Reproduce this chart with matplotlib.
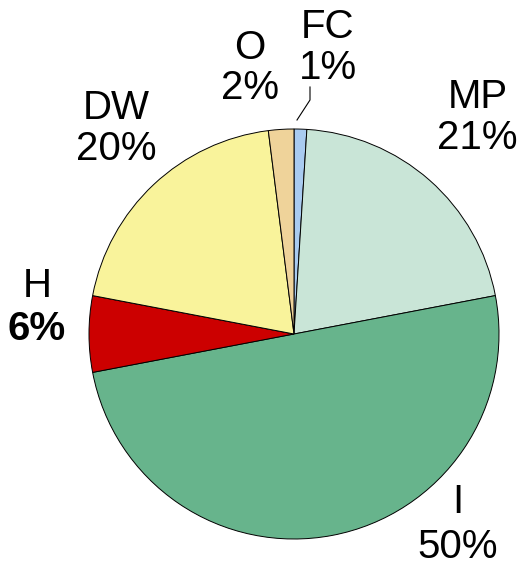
import matplotlib
matplotlib.use("Agg")
import matplotlib.pyplot as plt

categories = ["FC", "MP", "I", "H", "DW", "O"]
values = [1, 21, 50, 6, 20, 2]
pct_labels = ["1%", "21%", "50%", "6%", "20%", "2%"]
colors = ["#A9CBF0", "#C9E5D7", "#67B48C", "#CC0000", "#F9F39B", "#EFD39A"]

W, H = 518, 566
fig = plt.figure(figsize=(W / 100, H / 100), dpi=100)
ax = fig.add_axes([0, 0, 1, 1])

cx, cy, r = 294, H - 334, 205
ax.pie(values, colors=colors, startangle=90, counterclock=False,
       center=(cx, cy), radius=r, frame=True,
       wedgeprops=dict(edgecolor="black", linewidth=0.7))
ax.set_xlim(0, W)
ax.set_ylim(0, H)
ax.set_aspect("equal")
ax.axis("off")

# label positions in pixel coordinates (x, y of name line, y of pct line)
pos = {
    "FC": (328, 27, 68),
    "MP": (478, 97, 138),
    "I": (458, 502, 547),
    "H": (37, 286, 329),
    "DW": (116, 108, 149),
    "O": (250, 48, 88),
}
fs = 29
fam = ["Liberation Sans", "DejaVu Sans"]
for cat, pl in zip(categories, pct_labels):
    x, y1, y2 = pos[cat]
    ax.text(x, H - y1, cat, ha="center", va="center", fontsize=fs, family=fam)
    ax.text(x - (1 if cat == "MP" else 0), H - y2, pl, ha="center", va="center",
            fontsize=fs, family=fam,
            fontweight="bold" if cat == "H" else "normal")

# leader line for FC
ax.plot([310, 310, 297], [H - 87, H - 100, H - 120], color="black", lw=0.8)

fig.savefig("out.png", dpi=100)
